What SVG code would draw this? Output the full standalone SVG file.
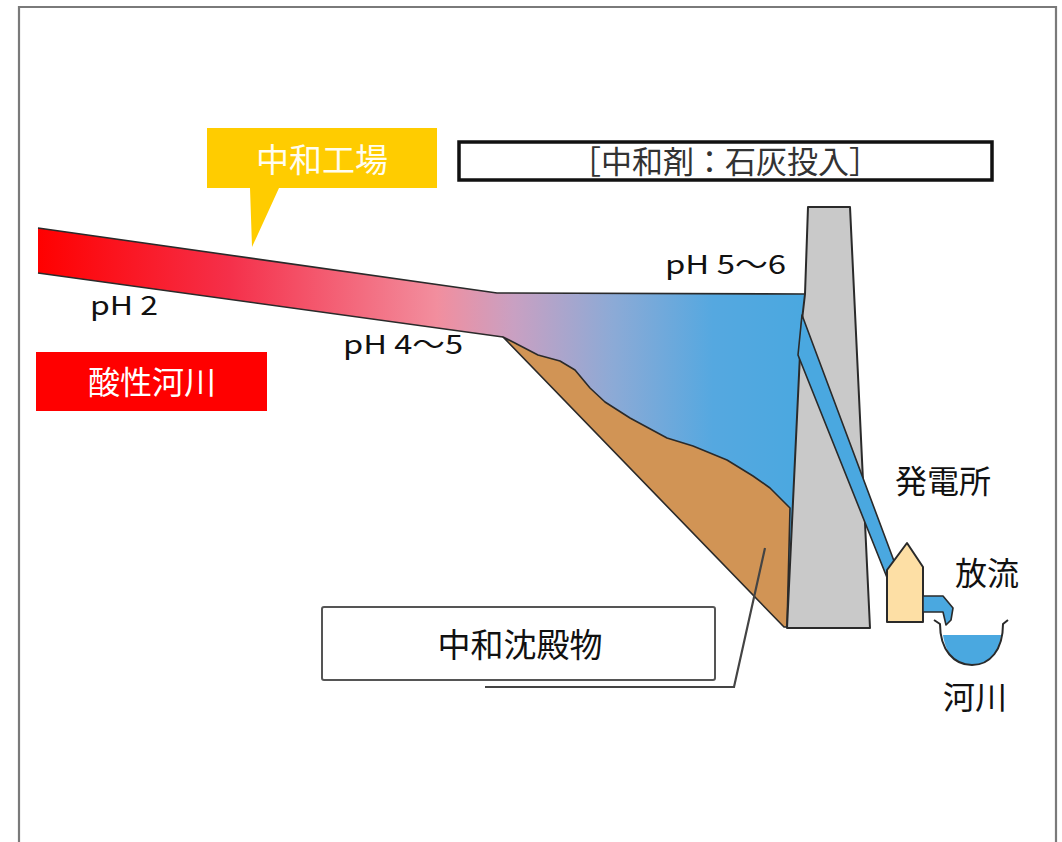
<svg xmlns="http://www.w3.org/2000/svg" width="1062" height="842" viewBox="0 0 1062 842">
  <defs>
    <linearGradient id="flowGrad" gradientUnits="userSpaceOnUse" x1="38" y1="0" x2="805" y2="0">
      <stop offset="0" stop-color="#FF0000"/>
      <stop offset="0.25" stop-color="#F5304A"/>
      <stop offset="0.52" stop-color="#F28E9E"/>
      <stop offset="0.62" stop-color="#C9A0C2"/>
      <stop offset="0.75" stop-color="#8CAAD6"/>
      <stop offset="0.88" stop-color="#55A8E0"/>
      <stop offset="1" stop-color="#4AA8E0"/>
    </linearGradient>
    <style>
      .jp { font-family: "Noto Sans CJK JP", "Liberation Sans", sans-serif; }
      .ph { font-family: "Noto Sans CJK JP", "Liberation Sans", sans-serif; font-size: 26px; fill: #111; }
      .lbl { font-size: 32px; fill: #111; }
      .edge { stroke: #2a2a2a; stroke-width: 1.6; stroke-linejoin: round; }
      .water { fill: #4AA8E0; }
    </style>
  </defs>

  <rect width="1062" height="842" fill="#FFFFFF"/>

  <!-- outer frame (open at the bottom) -->
  <path d="M19,842 L19,7 L1056,7 L1056,842" fill="none" stroke="#7a7a7a" stroke-width="2.2"/>

  <!-- acidic river flowing into the reservoir -->
  <g id="river-reservoir">
    <path d="M38,228 L497,293 L805,294 L802,320 L787,628 L785,627 L503,337 L38,273 Z" fill="url(#flowGrad)"/>
    <path d="M38,228 L497,293 L805,294" fill="none" class="edge"/>
    <path d="M38,273 L503,337" fill="none" class="edge"/>
  </g>

  <!-- neutralised sediment deposit -->
  <g id="sediment">
    <path d="M503,337 L513,342 L538,355 L560,361 L575,370 L590,388 L605,402 L630,418 L667,438 L693,446 L727,460 L753,476 L770,488 L790,508 L787,627 L784,627 Z" fill="#D19455" class="edge"/>
  </g>

  <!-- dam body -->
  <g id="dam">
    <path d="M808,207 L850,207 L870,628 L787,628 L800,354 L802,320 L805,294 Z" fill="#C9C9C9" stroke="#2a2a2a" stroke-width="2" stroke-linejoin="round"/>
  </g>

  <!-- penstock from the reservoir to the power station -->
  <g id="penstock">
    <path d="M802,315 L894,561 L888,580 L798,355 Z" class="water edge"/>
  </g>

  <!-- power station -->
  <g id="power-station">
    <path d="M887,622 L887,570 L907,543 L923,567 L923,622 Z" fill="#FDDFA5" stroke="#2a2a2a" stroke-width="2" stroke-linejoin="round"/>
    <!-- outlet spout -->
    <path d="M923,596 L943,596 L953,608 L951,620 L946,625 L943,612 L923,612 Z" class="water edge"/>
    <text x="943" y="493" text-anchor="middle" class="jp lbl">発電所</text>
  </g>

  <!-- discharge label -->
  <g id="discharge">
    <text x="987" y="585" text-anchor="middle" class="jp lbl">放流</text>
  </g>

  <!-- downstream river channel -->
  <g id="downstream-river">
    <path d="M943,635 L1001,635 C999,655 988,665 972,665 C956,665 946,655 943,635 Z" fill="#4AA8E0"/>
    <path d="M934,620 L940,624 C940,650 954,665 972,665 C990,665 1003,650 1003,624 L1008,620" fill="none" stroke="#2a2a2a" stroke-width="2" stroke-linejoin="round"/>
    <text x="975" y="709" text-anchor="middle" class="jp lbl">河川</text>
  </g>

  <!-- neutralisation plant callout -->
  <g id="plant-callout">
    <path d="M207,128 L437,128 L437,188 L279,188 L252,247 L250,188 L207,188 Z" fill="#FFCC00"/>
    <text x="322" y="172" text-anchor="middle" class="jp" font-size="33" fill="#FFFDF0">中和工場</text>
  </g>

  <!-- neutraliser note -->
  <g id="neutraliser-note">
    <rect x="459" y="142" width="533" height="38" fill="#FFFFFF" stroke="#111" stroke-width="3.5"/>
    <text x="725" y="173" text-anchor="middle" class="jp" font-size="31" fill="#333">［中和剤：石灰投入］</text>
  </g>

  <!-- acidic river label -->
  <g id="acid-river-label">
    <rect x="36" y="352" width="231" height="59" fill="#FF0000"/>
    <text x="152" y="394" text-anchor="middle" class="jp" font-size="32" fill="#FFFFFF">酸性河川</text>
  </g>

  <!-- pH readings -->
  <g id="ph-labels">
    <text x="90" y="315" class="ph" textLength="68" lengthAdjust="spacingAndGlyphs">pH 2</text>
    <text x="343" y="354" class="ph" textLength="120" lengthAdjust="spacingAndGlyphs">pH 4〜5</text>
    <text x="665" y="274" class="ph" textLength="121" lengthAdjust="spacingAndGlyphs">pH 5〜6</text>
  </g>

  <!-- sediment label -->
  <g id="sediment-label">
    <rect x="322" y="607" width="393" height="73" rx="2" fill="#FFFFFF" stroke="#555" stroke-width="2"/>
    <text x="520" y="657" text-anchor="middle" class="jp" font-size="33" fill="#111">中和沈殿物</text>
  </g>

  <!-- leader lines -->
  <g id="connectors">
    <polyline points="765,548 734,687 485,687" fill="none" stroke="#444" stroke-width="2.2"/>
  </g>
</svg>
